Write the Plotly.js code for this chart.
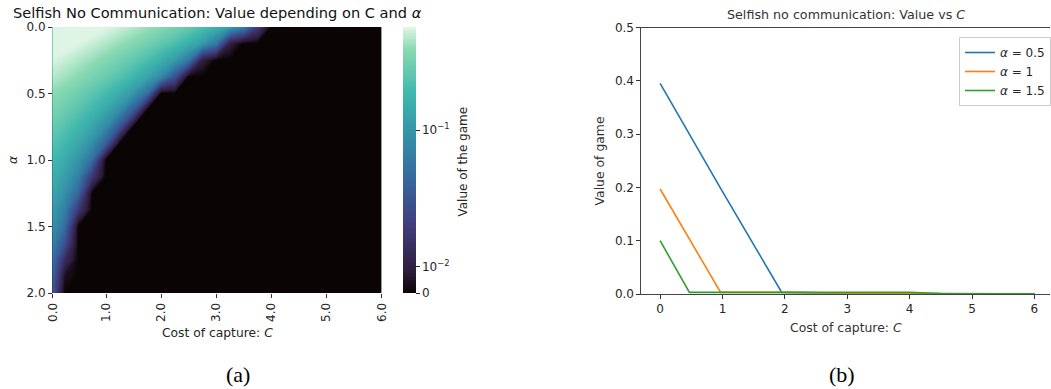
<!DOCTYPE html>
<html>
<head>
<meta charset="utf-8">
<script src="https://cdn.plot.ly/plotly-3.0.1.min.js"></script>
<style>
  html, body { margin: 0; padding: 0; background: #ffffff; }
  #chart { width: 1051px; height: 389px; }
</style>
</head>
<body>
<div id="chart"></div>
<script>
// Heatmap grid: cost of capture C (columns) and alpha (rows)
const costGrid = [0, 0.25, 0.5, 0.75, 1, 1.25, 1.5, 1.75, 2, 2.25, 2.5, 2.75, 3,
                  3.25, 3.5, 3.75, 4, 4.25, 4.5, 4.75, 5, 5.25, 5.5, 5.75, 6];
const alphaGrid = [0, 0.125, 0.25, 0.375, 0.5, 0.625, 0.75, 0.875, 1,
                   1.125, 1.25, 1.375, 1.5, 1.625, 1.75, 1.875, 2];

// Value of the game, one row per alpha value
const heatValues = [
  [0.77, 0.72, 0.67, 0.62, 0.57,  0.52, 0.47, 0.42, 0.37, 0.32,  0.27, 0.22, 0.17, 0.12, 0.07,  0.02, 0, 0, 0, 0,  0, 0, 0, 0, 0],
  [0.66, 0.61, 0.56, 0.51, 0.46,  0.41, 0.36, 0.31, 0.26, 0.21,  0.16, 0.11, 0.06, 0.01, 0,  0, 0, 0, 0, 0,  0, 0, 0, 0, 0],
  [0.56, 0.51, 0.46, 0.41, 0.36,  0.31, 0.26, 0.21, 0.16, 0.11,  0.06, 0.01, 0, 0, 0,  0, 0, 0, 0, 0,  0, 0, 0, 0, 0],
  [0.48, 0.43, 0.38, 0.33, 0.28,  0.23, 0.18, 0.13, 0.08, 0.03,  0, 0, 0, 0, 0,  0, 0, 0, 0, 0,  0, 0, 0, 0, 0],
  [0.395, 0.345, 0.296, 0.247, 0.197,  0.148, 0.099, 0.049, 0, 0,  0, 0, 0, 0, 0,  0, 0, 0, 0, 0,  0, 0, 0, 0, 0],
  [0.336, 0.286, 0.236, 0.186, 0.136,  0.086, 0.036, 0, 0, 0,  0, 0, 0, 0, 0,  0, 0, 0, 0, 0,  0, 0, 0, 0, 0],
  [0.282, 0.232, 0.182, 0.132, 0.082,  0.032, 0, 0, 0, 0,  0, 0, 0, 0, 0,  0, 0, 0, 0, 0,  0, 0, 0, 0, 0],
  [0.238, 0.188, 0.138, 0.088, 0.038,  0, 0, 0, 0, 0,  0, 0, 0, 0, 0,  0, 0, 0, 0, 0,  0, 0, 0, 0, 0],
  [0.197, 0.148, 0.098, 0.049, 0,  0, 0, 0, 0, 0,  0, 0, 0, 0, 0,  0, 0, 0, 0, 0,  0, 0, 0, 0, 0],
  [0.168, 0.118, 0.068, 0.018, 0,  0, 0, 0, 0, 0,  0, 0, 0, 0, 0,  0, 0, 0, 0, 0,  0, 0, 0, 0, 0],
  [0.142, 0.092, 0.042, 0, 0,  0, 0, 0, 0, 0,  0, 0, 0, 0, 0,  0, 0, 0, 0, 0,  0, 0, 0, 0, 0],
  [0.118, 0.068, 0.018, 0, 0,  0, 0, 0, 0, 0,  0, 0, 0, 0, 0,  0, 0, 0, 0, 0,  0, 0, 0, 0, 0],
  [0.100, 0.050, 0, 0, 0,  0, 0, 0, 0, 0,  0, 0, 0, 0, 0,  0, 0, 0, 0, 0,  0, 0, 0, 0, 0],
  [0.080, 0.030, 0, 0, 0,  0, 0, 0, 0, 0,  0, 0, 0, 0, 0,  0, 0, 0, 0, 0,  0, 0, 0, 0, 0],
  [0.064, 0.014, 0, 0, 0,  0, 0, 0, 0, 0,  0, 0, 0, 0, 0,  0, 0, 0, 0, 0,  0, 0, 0, 0, 0],
  [0.052, 0.004, 0, 0, 0,  0, 0, 0, 0, 0,  0, 0, 0, 0, 0,  0, 0, 0, 0, 0,  0, 0, 0, 0, 0],
  [0.042, 0, 0, 0, 0,  0, 0, 0, 0, 0,  0, 0, 0, 0, 0,  0, 0, 0, 0, 0,  0, 0, 0, 0, 0]
];

// Heatmap axis ticks
const costTicks = [0, 1, 2, 3, 4, 5, 6];
const costTickLabels = ['0.0', '1.0', '2.0', '3.0', '4.0', '5.0', '6.0'];
const alphaTicks = [0, 0.5, 1, 1.5, 2];

// Colour bar ticks (symmetric-log scale, linear below 1e-2)
const colorTickValues = [0, 0.01, 0.1];
const colorTickLabels = ['0', '10<sup>\u22122</sup>', '10<sup>\u22121</sup>'];
const colorMax = 0.565;

// Line panel: value vs cost of capture for three alpha values
const lineCost = [0, 0.47, 0.97, 1.95, 2.5, 3, 3.5, 4, 4.5, 5, 5.5, 6];
const valueAlpha05 = [0.395, 0.300, 0.198, 0.003, 0.002, 0.001, 0.001, 0.001, 0.0005, 0.0005, 0.0005, 0.0005];
const valueAlpha1  = [0.197, 0.102, 0.003, 0.003, 0.002, 0.001, 0.001, 0.001, 0.0005, 0.0005, 0.0005, 0.0005];
const valueAlpha15 = [0.100, 0.003, 0.003, 0.003, 0.003, 0.002, 0.003, 0.003, 0.001, 0.0005, 0.0005, 0.0005];
const seriesNames = ['<i>\u03b1</i> = 0.5', '<i>\u03b1</i> = 1', '<i>\u03b1</i> = 1.5'];
const seriesColors = ['#1f77b4', '#ff7f0e', '#2ca02c'];

// symlog-style colour normalisation (linear below LIN_THRESH)
const LIN_THRESH = 0.01;
const LIN_SCALE = 0.19;
function symlog(v) {
  if (v <= LIN_THRESH) return LIN_SCALE * v / LIN_THRESH;
  return LIN_SCALE + Math.log10(v / LIN_THRESH);
}
const tMax = symlog(colorMax);

// seaborn "mako" colour map
const makoScale = [
  [0.0, '#0b0405'],
  [0.0833, '#2e1e3b'],
  [0.25, '#413d7b'],
  [0.4167, '#37659e'],
  [0.5833, '#348fa7'],
  [0.75, '#40b7ad'],
  [0.9167, '#8bdab2'],
  [1.0, '#def5e5']
];

const W = 1051, H = 389;
const px = x => x / W;
const py = y => (H - y) / H;

const FONT = 'DejaVu Sans, sans-serif';
const TXT = '#262626';
const FS = 12;

const levels = 150;
const step = tMax / levels;

// start the visible C range just inside the field's left edge so the
// outermost sliver of the filled levels stays clipped
const EDGE = 0.035;

const heat = {
  type: 'contour',
  x: costGrid,
  y: alphaGrid,
  z: heatValues.map(row => row.map(symlog)),
  zmin: 0,
  zmax: tMax,
  autocontour: false,
  connectgaps: true,
  contours: { start: step / 2, end: tMax - step / 2, size: step, coloring: 'fill', showlines: false },
  line: { width: 0, smoothing: 0, color: 'rgba(0,0,0,0)' },
  colorscale: makoScale,
  xaxis: 'x',
  yaxis: 'y',
  hoverinfo: 'skip',
  showlegend: false,
  colorbar: {
    x: px(403), xanchor: 'left', xref: 'paper', xpad: 0,
    y: py(160), yanchor: 'middle', ypad: 0,
    thickness: 13, thicknessmode: 'pixels',
    len: 266, lenmode: 'pixels',
    outlinewidth: 0,
    tickmode: 'array',
    tickvals: colorTickValues.map(symlog),
    ticktext: colorTickLabels,
    ticks: 'outside', ticklen: 4, tickcolor: TXT,
    tickfont: { family: FONT, size: FS, color: TXT }
  }
};

const lineValues = [valueAlpha05, valueAlpha1, valueAlpha15];
const lines = lineValues.map((vals, i) => ({
  type: 'scatter',
  mode: 'lines',
  x: lineCost,
  y: vals,
  name: seriesNames[i],
  line: { color: seriesColors[i], width: 1.6 },
  xaxis: 'x2',
  yaxis: 'y2',
  hoverinfo: 'skip'
}));

const baseAxis = {
  showgrid: false,
  zeroline: false,
  ticks: 'outside',
  ticklen: 4,
  tickcolor: '#333333',
  tickfont: { family: FONT, size: FS, color: TXT }
};

const layout = {
  width: W,
  height: H,
  margin: { l: 0, r: 0, t: 0, b: 0 },
  paper_bgcolor: '#ffffff',
  plot_bgcolor: '#ffffff',
  font: { family: FONT, color: TXT },
  showlegend: true,
  xaxis: Object.assign({}, baseAxis, {
    domain: [px(53), px(382)],
    range: [EDGE, 6],
    tickmode: 'array',
    tickvals: costTicks.map(v => Math.max(v, EDGE)),
    ticktext: costTickLabels,
    tickangle: -90,
    showline: false,
    anchor: 'y'
  }),
  yaxis: Object.assign({}, baseAxis, {
    domain: [py(293), py(27)],
    range: [2, 0],
    tickmode: 'array',
    tickvals: alphaTicks,
    tickformat: '.1f',
    showline: false,
    anchor: 'x'
  }),
  xaxis2: Object.assign({}, baseAxis, {
    domain: [px(642), 1],
    range: [-0.3, 6.25],
    tickmode: 'array',
    tickvals: [0, 1, 2, 3, 4, 5, 6],
    showline: true,
    linecolor: '#444444',
    linewidth: 1,
    mirror: true,
    layer: 'below traces',
    anchor: 'y2'
  }),
  yaxis2: Object.assign({}, baseAxis, {
    domain: [py(294), py(27.5)],
    range: [0, 0.5],
    tickmode: 'array',
    tickvals: [0, 0.1, 0.2, 0.3, 0.4, 0.5],
    tickformat: '.1f',
    showline: true,
    linecolor: '#444444',
    linewidth: 1,
    layer: 'below traces',
    anchor: 'x2'
  }),
  legend: {
    x: px(960), xanchor: 'left', xref: 'paper',
    y: py(37), yanchor: 'top', yref: 'paper',
    bgcolor: 'rgba(255,255,255,0.85)',
    bordercolor: '#cccccc',
    borderwidth: 1,
    font: { family: FONT, size: 12, color: TXT },
    itemwidth: 30,
    tracegroupgap: 0
  },
  annotations: [
    { text: 'Selfish No Communication: Value depending on C and <i>\u03b1</i>',
      x: px(218), y: py(13), xref: 'paper', yref: 'paper', showarrow: false,
      xanchor: 'center', yanchor: 'middle', font: { family: FONT, size: 14.6, color: '#111111' } },
    { text: 'Value of the game',
      x: px(463), y: py(162), xref: 'paper', yref: 'paper', showarrow: false, textangle: -90,
      xanchor: 'center', yanchor: 'middle', font: { family: FONT, size: FS, color: TXT } },
    { text: 'Cost of capture: <i>C</i>',
      x: px(218), y: py(333), xref: 'paper', yref: 'paper', showarrow: false,
      xanchor: 'center', yanchor: 'middle', font: { family: FONT, size: 12.3, color: TXT } },
    { text: '<i>\u03b1</i>',
      x: px(13), y: py(160), xref: 'paper', yref: 'paper', showarrow: false, textangle: -90,
      xanchor: 'center', yanchor: 'middle', font: { family: FONT, size: 12.3, color: TXT } },
    { text: 'Selfish no communication: Value vs <i>C</i>',
      x: px(847), y: py(14), xref: 'paper', yref: 'paper', showarrow: false,
      xanchor: 'center', yanchor: 'middle', font: { family: FONT, size: 12.7, color: '#333333' } },
    { text: 'Cost of capture: <i>C</i>',
      x: px(847), y: py(327), xref: 'paper', yref: 'paper', showarrow: false,
      xanchor: 'center', yanchor: 'middle', font: { family: FONT, size: 12.4, color: '#333333' } },
    { text: 'Value of game',
      x: px(600), y: py(161), xref: 'paper', yref: 'paper', showarrow: false, textangle: -90,
      xanchor: 'center', yanchor: 'middle', font: { family: FONT, size: 12.4, color: '#333333' } },
    { text: '(a)',
      x: px(238), y: py(374), xref: 'paper', yref: 'paper', showarrow: false,
      xanchor: 'center', yanchor: 'middle', font: { family: 'Liberation Serif, serif', size: 22, color: '#000000' } },
    { text: '(b)',
      x: px(843), y: py(374), xref: 'paper', yref: 'paper', showarrow: false,
      xanchor: 'center', yanchor: 'middle', font: { family: 'Liberation Serif, serif', size: 22, color: '#000000' } }
  ]
};

Plotly.newPlot('chart', [heat].concat(lines), layout, { staticPlot: true, displayModeBar: false });
</script>
</body>
</html>
